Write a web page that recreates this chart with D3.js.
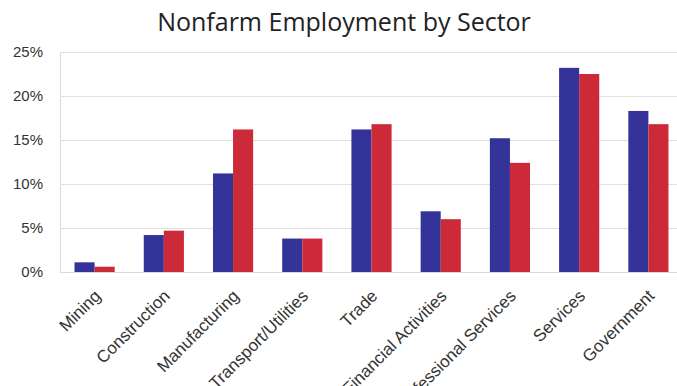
<!DOCTYPE html>
<html><head><meta charset="utf-8">
<script src="https://cdn.jsdelivr.net/npm/d3@7"></script>
<style>body{margin:0;background:#fff;}svg{display:block;font-family:"Open Sans",sans-serif;}</style>
</head><body>
<svg id="c" width="677" height="386"></svg>
<script>
const categories = ["Mining","Construction","Manufacturing","Transport/Utilities","Trade","Financial Activities","Professional Services","Services","Government"];
const seriesA = [1.1,4.2,11.2,3.8,16.2,6.9,15.2,23.2,18.3];
const seriesB = [0.6,4.7,16.2,3.8,16.8,6.0,12.4,22.5,16.8];
const yTicks = [0,5,10,15,20,25];
const title = "Nonfarm Employment by Sector";

const svg = d3.select("#c");
const m = {l:60, r:683, t:52, b:272};
const x = d3.scaleBand().domain(categories).range([m.l, m.r]).paddingInner(0.42).paddingOuter(0.21);
const x1 = d3.scaleBand().domain([0,1]).range([0, x.bandwidth()]);
const y = d3.scaleLinear().domain([0,25]).range([m.b, m.t]);

svg.append("text").attr("x",344).attr("y",31).attr("text-anchor","middle")
  .attr("font-size",25).attr("fill","#222").text(title);

const ya = svg.append("g").attr("transform",`translate(${m.l},0)`)
  .call(d3.axisLeft(y).tickValues(yTicks).tickSize(-(m.r-m.l)).tickFormat(d=>d+"%"));
ya.select(".domain").attr("stroke","#d9d9d9");
ya.selectAll(".tick line").attr("stroke","#e0e0e0");
ya.selectAll(".tick text").attr("x",-17).attr("font-size",15).attr("fill","#333");

const g = svg.append("g");
categories.forEach((c,i)=>{
  [seriesA[i], seriesB[i]].forEach((v,j)=>{
    g.append("rect").attr("x", x(c)+x1(j)).attr("width", x1.bandwidth())
      .attr("y", y(v)).attr("height", y(0)-y(v))
      .attr("fill", j===0 ? "#333399" : "#cc2939");
  });
});

const xa = svg.append("g").attr("transform",`translate(0,${m.b})`)
  .call(d3.axisBottom(x).tickSize(0).tickFormat(d=>d));
xa.select(".domain").attr("stroke","#d9d9d9");
xa.selectAll(".tick text").attr("font-size",17).attr("fill","#333")
  .attr("text-anchor","end").attr("dy",0).attr("y",0)
  .attr("transform","translate(7,25) rotate(-45)");
</script>
</body></html>
